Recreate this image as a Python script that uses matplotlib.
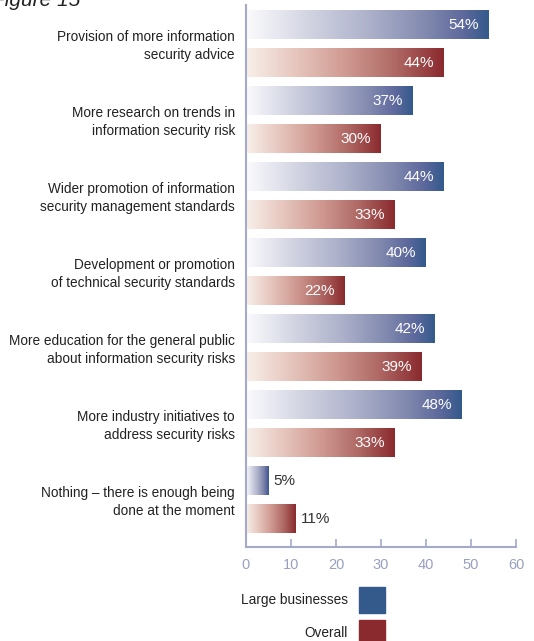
import numpy as np
import matplotlib
matplotlib.use('Agg')
from matplotlib import pyplot as plt
from matplotlib.colors import LinearSegmentedColormap
from matplotlib.patches import Rectangle


# 항목별 응답 비율 (%)
categories = [
    'Provision of more information\nsecurity advice',
    'More research on trends in\ninformation security risk',
    'Wider promotion of information\nsecurity management standards',
    'Development or promotion\nof technical security standards',
    'More education for the general public\nabout information security risks',
    'More industry initiatives to\naddress security risks',
    'Nothing \u2013 there is enough being\ndone at the moment',
]
large_businesses = [54, 37, 44, 40, 42, 48, 5]
overall = [44, 30, 33, 22, 39, 33, 11]
x_ticks = [0, 10, 20, 30, 40, 50, 60]
series_names = ['Large businesses', 'Overall']

BLUE = '#345a8c'
RED = '#8a2a2e'
AXIS = '#a3aacb'
NARROW = ['Liberation Sans Narrow', 'Liberation Sans', 'DejaVu Sans']
REGULAR = ['Liberation Sans', 'DejaVu Sans']

blue_cmap = LinearSegmentedColormap.from_list('blue_grad', [
    (0.0, '#fbfbfd'), (0.25, '#d3d5e3'), (0.5, '#aeb2cb'),
    (0.75, '#8088ae'), (0.9, '#5d689c'), (1.0, BLUE)])
red_cmap = LinearSegmentedColormap.from_list('red_grad', [
    (0.0, '#f8f0ea'), (0.25, '#e6c6be'), (0.5, '#d09a92'),
    (0.75, '#b06a66'), (1.0, RED)])

plt.rcParams['font.family'] = NARROW

fig = plt.figure(figsize=(5.34, 6.41), dpi=100)
W, H = 534, 641
ax = fig.add_axes([246 / W, 1 - 547 / H, (516 - 246) / W, (547 - 5) / H])

bar_h = 28 / 38
grad = np.linspace(0, 1, 256).reshape(1, -1)


def gradient_bar(y, value, cmap, label_inside):
    ax.imshow(grad, cmap=cmap, aspect='auto', interpolation='bilinear',
              extent=[0, value, y + bar_h / 2, y - bar_h / 2], zorder=2)
    if label_inside:
        ax.text(value - 2.2, y, f'{value}%', color='white', fontsize=11,
                family=REGULAR, ha='right', va='center', zorder=3)
    else:
        ax.text(value + 1.1, y, f'{value}%', color='#333333', fontsize=11,
                family=REGULAR, ha='left', va='center', zorder=3)


for i, (lb, ov) in enumerate(zip(large_businesses, overall)):
    yb = 2 * i
    yr = 2 * i + 1
    gradient_bar(yb, lb, blue_cmap, lb >= 15)
    gradient_bar(yr, ov, red_cmap, ov >= 15)

ax.set_xlim(0, 60)
ax.set_ylim(13.737, -0.526)
ax.set_xticks(x_ticks)
ax.set_xticklabels([str(t) for t in x_ticks], family=REGULAR)
ax.set_yticks([2 * i + 0.46 for i in range(len(categories))])
ax.set_yticklabels(categories, fontsize=9.8, color='#222222', ha='right',
                   linespacing=1.4)
ax.tick_params(axis='y', length=0, pad=8)
ax.tick_params(axis='x', direction='in', length=6, width=1.2, color=AXIS,
               labelcolor='#9aa0c0', labelsize=10.5, pad=8)
for side in ['top', 'right']:
    ax.spines[side].set_visible(False)
for side in ['left', 'bottom']:
    ax.spines[side].set_color(AXIS)
    ax.spines[side].set_linewidth(1.5)

# 제목 (위쪽이 잘려 있음)
fig.text(-0.015, 1.0, 'Figure 15', fontsize=15, style='italic',
         ha='left', va='center', color='#222222')

# 범례
legend_colors = [BLUE, RED]
legend_tops = [587, 620]
for name, color, top in zip(series_names, legend_colors, legend_tops):
    fig.patches.append(Rectangle((359 / W, 1 - (top + 26) / H), 26 / W, 26 / H,
                                 transform=fig.transFigure, color=color))
    fig.text(348 / W, 1 - (top + 13) / H, name, fontsize=9.8,
             ha='right', va='center', color='#222222')

fig.savefig('out.png', dpi=100)
